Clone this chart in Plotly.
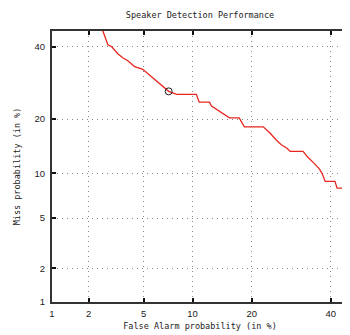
import plotly.graph_objects as go
from statistics import NormalDist

# DET curve data (percent)
false_alarm = [2.45, 2.57, 2.80, 2.99, 3.31, 3.59, 3.90, 4.35, 4.93, 5.65, 6.54, 7.23, 8.08,
               10.5, 10.9, 12.4, 12.7, 13.7, 14.5, 15.7, 17.5, 18.1, 18.5, 22.5, 23.9,
               25.5, 26.7, 28.2, 28.9, 32.3, 33.4, 35.3, 36.7, 37.5, 38.4, 41.2, 41.8, 46.0]
miss = [47.0, 45.0, 40.6, 40.0, 37.8, 36.6, 35.7, 33.9, 33.1, 30.8, 28.5, 26.9, 26.1,
        26.1, 24.1, 24.1, 23.1, 22.1, 21.4, 20.3, 20.3, 19.2, 18.3, 18.3, 17.1,
        15.6, 14.7, 14.0, 13.5, 13.5, 12.6, 11.5, 10.7, 10.0, 8.9, 8.9, 8.05, 8.05]
op_fa = [7.23]
op_miss = [26.9]
tick_vals = [1, 2, 5, 10, 20, 40]
tick_text = ["1", "2", "5", "10", "20", "40"]
axis_range = [1, 45]

nd = NormalDist()
def probit(p):
    return [nd.inv_cdf(v / 100.0) for v in p]

fig = go.Figure()
fig.add_trace(go.Scatter(x=probit(false_alarm), y=probit(miss), mode="lines",
                         line=dict(color="#e8261f", width=1.3), hoverinfo="skip"))
fig.add_trace(go.Scatter(x=probit(op_fa), y=probit(op_miss), mode="markers",
                         marker=dict(symbol="circle-open", size=7, color="#222",
                                     line=dict(width=1)), hoverinfo="skip"))

axis_common = dict(
    tickmode="array", tickvals=probit(tick_vals), ticktext=tick_text,
    range=probit(axis_range), showgrid=True, gridcolor="#888888", griddash="1px,4px",
    gridwidth=1, zeroline=False, showline=True, linecolor="#333333", linewidth=2,
    mirror="ticks", ticks="inside", ticklen=4, tickwidth=2, tickcolor="#111",
    automargin=False,
    tickfont=dict(family="Liberation Sans, Arial", size=9.5, color="#222"),
)

title_font = dict(family="DejaVu Sans Mono", size=8.5, color="#222")

# page body has an 8px default margin; figure is sized to fit the 350x335 window
fig.update_layout(
    width=342, height=327, showlegend=False,
    margin=dict(l=44, r=2, t=23, b=33),
    paper_bgcolor="white", plot_bgcolor="white",
    title=dict(text="Speaker Detection Performance", x=0.5, xref="paper",
               y=1 - 7 / 327, yref="container", yanchor="middle", font=title_font),
    xaxis=dict(**axis_common, ticklabelstandoff=2,
               title=dict(text="False Alarm probability (in %)", standoff=5, font=title_font)),
    yaxis=dict(**axis_common, ticklabelstandoff=3,
               title=dict(text="Miss probability (in %)", standoff=13, font=title_font)),
)
fig.write_html("out.html")
